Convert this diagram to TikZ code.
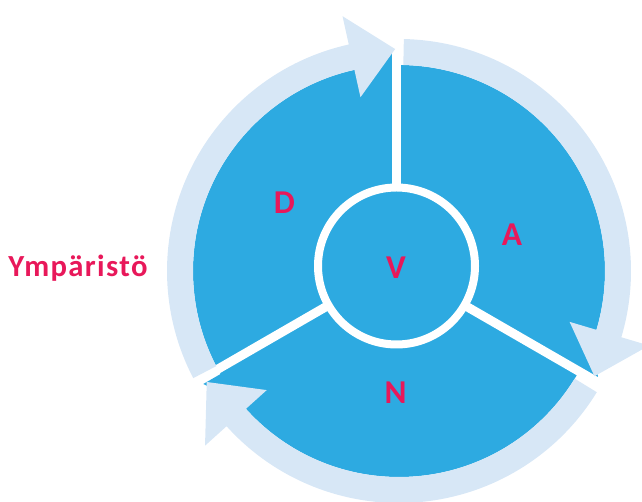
\documentclass[tikz,border=0pt]{standalone}
\usepackage{fontspec}
\setmainfont{Carlito}
\newfontfamily\widefont[LetterSpace=4.5]{Carlito}
\definecolor{cycleblue}{RGB}{45,170,225}
\definecolor{ringblue}{RGB}{215,231,246}
\definecolor{labelpink}{RGB}{232,24,90}
\begin{document}
\begin{tikzpicture}[x=0.75pt,y=0.75pt,
	letter/.style={text=labelpink,font=\bfseries\fontsize{25}{25}\selectfont,inner sep=0pt,anchor=base},
	divider/.style={draw=white,line width=6.75pt},
	hub/.style={draw=white,line width=6pt,fill=cycleblue}]
	\useasboundingbox (0,0) rectangle (642,502);
	\coordinate (B) at (399,231);
	\coordinate (C) at (396.5,236);
	
	\fill[cycleblue] (B) circle (206);
	\foreach \t in {91,-28.3,210}
		\fill[cycleblue,shift={(B)}] ({\t+14}:200) -- (\t:226) -- (\t:190) -- cycle;
	
	\foreach \a in {90,-30,210}
		\draw[divider] (C) -- ++(\a:240);
	\draw[hub] (C) circle (78.5);
	
	\foreach \s/\e/\t in {207.5/102.5/91, 88.8/-16.6/-28.3, -31.5/-138/-150}
		\fill[ringblue,shift={(B)}] (\s:206) arc[start angle=\s,end angle=\e,radius=206]
			-- (\e:178) -- (\t:222) -- (\e:261) -- (\e:232)
			arc[start angle=\e,end angle=\s,radius=232] -- cycle;
	
	\node[letter] (v) at (396,223.7) {V};
	\node[letter] (d) at (284.5,288.7) {D};
	\node[letter] (a) at (512,256.3) {A};
	\node[letter] (n) at (395.5,98) {N};
	\node[letter,font=\widefont\bfseries\fontsize{23}{23}\selectfont] (env) at (78,225.3) {Ympäristö};
\end{tikzpicture}
\end{document}
